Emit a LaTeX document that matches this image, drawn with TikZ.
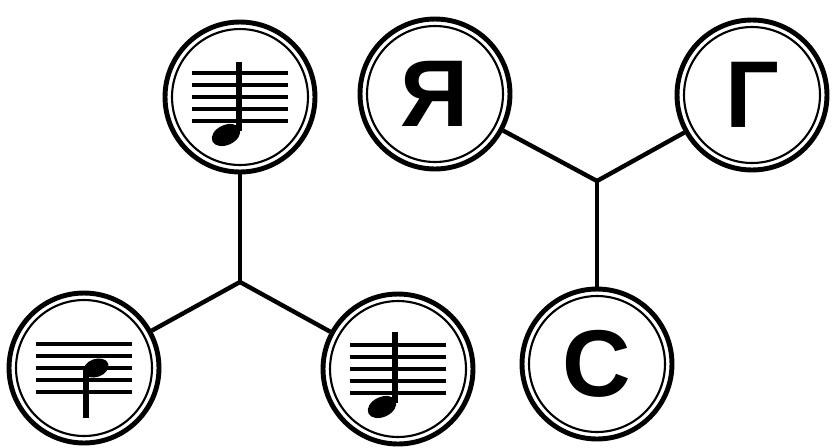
\documentclass[tikz,border=0pt]{standalone}
\usepackage{fontspec}
\newfontfamily\letterfont{Liberation Sans}
\newcommand\drawStaff{\foreach \y in {-24,-12,0,12,24} \draw[staff] (-48,\y) -- (48,\y);}

\begin{document}
\begin{tikzpicture}[x=0.02cm, y=-0.02cm,
  ring/.style={circle, draw, line width=2.8pt, minimum size=3cm, inner sep=0pt,
    path picture={\draw[line width=1.2pt] (path picture bounding box.center) circle (1.36cm);}},
  letter/.style={ring, font=\letterfont\bfseries\fontsize{54}{54}\selectfont},
  link/.style={line width=2.5pt},
  staff/.style={line width=2.4pt},
  stem/.style={line width=3pt}]
  \useasboundingbox (0,0) rectangle (832,447);

  % left tree: notes
  \node[ring] (nt) at (240,97) {};
  \node[ring] (nl) at (84,368) {};
  \node[ring] (nr) at (398,369) {};
  \coordinate (jl) at (240,282);
  \draw[link] (nt) -- (jl);
  \draw[link] (jl) -- (nl);
  \draw[link] (jl) -- (nr);

  \begin{scope}[shift={(nt.center)}]
    \drawStaff
    \draw[stem] (-1,-35) -- (-1,34);
    \fill[rotate around={25:(-14,38)}] (-14,38) ellipse (15 and 10);
  \end{scope}
  \begin{scope}[shift={(nr.center)}]
    \drawStaff
    \draw[stem] (-3,-37) -- (-3,34);
    \fill[rotate around={25:(-16,38)}] (-16,38) ellipse (15 and 10);
  \end{scope}
  \begin{scope}[shift={(nl.center)}]
    \drawStaff
    \draw[stem] (2,0) -- (2,50);
    \fill[rotate around={20:(12,0)}] (12,0) ellipse (13 and 9);
  \end{scope}

  % right tree: letters
  \node[letter] (ya) at (435,94) {Я};
  \node[letter] (ge) at (752,95) {Г};
  \node[letter] (es) at (597,364) {С};
  \coordinate (jr) at (597,181);
  \draw[link] (ya) -- (jr);
  \draw[link] (ge) -- (jr);
  \draw[link] (jr) -- (es);
\end{tikzpicture}
\end{document}
